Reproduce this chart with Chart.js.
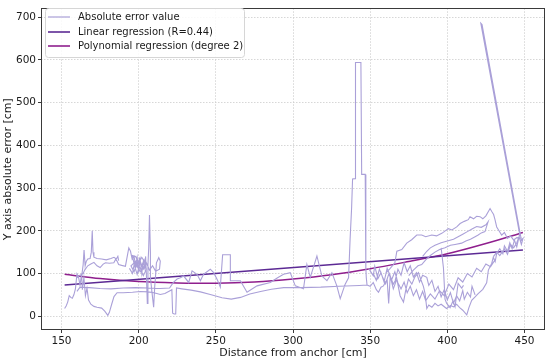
<!DOCTYPE html>
<html>
<head>
<meta charset="utf-8">
<script src="https://cdn.jsdelivr.net/npm/chart.js@4.4.1/dist/chart.umd.min.js"></script>
<style>
  html, body { margin: 0; padding: 0; background: #fff; }
  #wrap { width: 550px; height: 361px; position: relative; }
</style>
</head>
<body>
<div id="wrap"><canvas id="c" width="550" height="361"></canvas></div>
<script>
// ---------------- DATA ----------------
const xTicks = [150, 200, 250, 300, 350, 400, 450];
const yTicks = [0, 100, 200, 300, 400, 500, 600, 700];

const seriesLabels = ['Absolute error value', 'Linear regression (R=0.44)', 'Polynomial regression (degree 2)'];

// absolute error trajectory, pieces of [distance, error]
const errLowLeft = [[152,18],[153,24],[154,33],[155,48],[156,44],[157,42],[158,50],[159,64],[160,99],[161,92],[162,72],[163,100],[163.5,62],[164.5,90],[165.5,48],[166.5,66],[167.5,38],[169,28],[171,23],[173,21],[176,19],[178,12],[180,2],[181,9],[182.5,28],[184,46],[186,55],[190,55],[196,56],[201,58],[206,57],[210,55],[214,51],[217,53],[220,59],[221.5,62],[222,7],[223,5],[224,5],[224.5,66],[228,64],[234,61],[240,57],[247,50],[254,43],[260,40],[266,44],[272,52],[279,58],[286,63],[294,67],[305,67],[318,68],[330,70],[343,72],[348,73]];

const errMidLeft = [[160,58],[162,68],[168,67],[175,65],[182,64],[190,66],[198,67],[206,66],[214,65],[220,66],[222.5,79],[224.9,87],[227,90],[229.2,94],[232.4,79],[234.6,106],[237.8,98],[240,83],[242,98],[246.4,110],[248.6,102],[251,85],[252.9,68],[254.4,144],[259.4,144],[259.4,83],[265.9,83],[270.2,56],[276.7,71],[285.3,79],[290,90],[293.9,98],[298.2,102],[301.5,71],[306.8,64],[309,121],[311.2,91],[315.5,141],[318.7,94],[322,83],[325.2,102],[328.4,71],[330.6,41],[333.8,75],[336,90],[337,180],[338,255],[338.6,321],[340.3,322],[340.5,594],[344,594],[344.5,332],[346.8,332],[347.2,113],[347.5,90],[348,72]];

const errUpperLeft = [[160,90],[162,96],[164,100],[165,108],[167,118],[169,122],[171,126],[173,118],[175,114],[177,122],[178.5,125],[181,124],[183.9,125],[185,133],[186,129],[187,121],[189,119],[191.4,117],[193.6,160],[194.7,152],[195.8,133],[197,140],[198,118],[199,138],[200,108],[201,132],[202,100],[203,128],[204,112],[204.5,140],[205,96],[205.6,30],[206,120],[206.5,160],[207,237],[207.6,150],[207.6,91],[208.5,60],[209.7,21],[210.4,70],[210.8,87],[211.5,125],[213,137],[214,129],[213.5,110],[211,105],[209,118],[207,108],[205,125],[203,110],[201,128],[199,98],[197,122],[196,142],[198,140],[200,124],[202,138],[204,126]];

const errUpperBand = [[163,92],[164,120],[164.6,155],[165.3,118],[166,128],[167,134],[168.5,135],[169.3,150],[169.9,200],[170.4,150],[171,138],[173,135],[176,134],[179,132],[182,135],[184,138],[185.5,134],[186.5,140],[187,130]];

const errLeftTangle = [[194,112],[196,100],[197.5,130],[199,115],[200.5,135],[202,118],[203.5,132],[205,110],[203,95],[201,112],[199,125],[197,104],[195,118],[198,128],[201,104],[204,120]];

const errRightLow = [[348,73],[350,70],[352,79],[354,62],[355.4,56],[357,68],[358.6,71],[361,86],[362,30],[363,94],[365,64],[367.3,87],[369.4,48],[371.6,33],[373,60],[374.8,87],[377,75],[379,92],[381.3,102],[383,84],[384.5,70],[385.6,53],[386.7,18],[388,26],[390,21],[392,30],[394,24],[396,28],[399.5,18],[402,25],[404,22],[406,28],[408,20],[410,14],[412.6,3],[414,20],[415.8,37],[418,45],[420,53],[423,63],[425.5,78],[426.6,108],[428.8,124],[429.8,138],[431,128],[432,147],[434,158],[436,146],[437,165],[439,152],[440.5,172],[442,158],[443.5,178],[445,162],[446.5,186],[448,168],[449,182],[447.5,176],[448,178],[422.5,683],[421.7,686],[447,190],[445,172],[443,160],[441,168],[439,145],[437,158],[434,142],[432,150],[430,140]];

const errRightUpper = [[360,100],[363,112],[366,125],[367.3,152],[370.5,156],[373.7,171],[376.9,179],[380.2,190],[383.4,190],[386,186],[389.9,190],[393,188],[396.4,194],[398,198],[400.7,205],[403,202],[406.1,209],[408.3,217],[411,222],[413.6,226],[414.7,233],[417,228],[419,234],[421.2,233],[423,228],[425,235],[427.7,252],[428.8,245],[430,238],[430.9,226],[432,209],[433.5,200],[435.2,190],[437,196],[439,182],[441,188],[443,178],[445,184],[448.2,183]];

const errRightInner = [[375,95],[378,108],[381,118],[383.4,121],[386,132],[389,142],[392,150],[395,156],[398.5,160],[402,166],[405,168],[409.3,171],[412,176],[415,180],[418,186],[420,190],[422,195],[424.4,198],[426.4,221],[425,214],[422,208],[419,210],[416,204],[413,198],[410,192],[407,186],[404,180],[400,176],[396,172],[392,166],[389,160],[386.7,152],[384,140]];

const errRightMid = [[349,112],[352,95],[353,117],[355,88],[357,102],[359,80],[361,112],[363,94],[365,75],[366.2,83],[368,110],[370,96],[372,125],[374,104],[376,118],[378,92],[380,102],[382,80],[384,96],[386.7,91],[388,72],[390,84],[392,58],[394,70],[396,45],[398,62],[400,38],[402,55],[404,30],[406,48],[408,36],[410,60],[411,40],[413,56],[415,45],[416,70],[418,50]];

const errRightDrop = [[396,160],[397.5,113],[398.5,40],[399.6,30],[401.8,20],[403.7,36],[405,22],[407,77],[409.3,66],[410.5,72]];

const errRightTangle = [[352,100],[354,84],[356,110],[358,92],[360,76],[362,98],[364,86],[366,104],[368,78],[370,64],[372,80],[374,55],[376,70],[378,48],[380,62],[382,40],[384,58],[386,36],[389,52],[392,40],[395,60],[398,48],[401,75],[404,62],[407,90],[410,80],[413,100],[416,92],[419,112],[422,104],[425,122],[428,116],[431,132]];

// regression curves
const linDistance = [152, 449];
const linValue = [73, 155];
const polyDistance = [152, 175, 200, 225, 250, 275, 300, 325, 350, 375, 400, 425, 449];
const polyValue = [98, 88, 81, 78, 77, 80, 87, 97, 111, 128, 146, 170, 196];

// ---------------- BUILD ----------------
const errPieces = [errLowLeft, errMidLeft, errUpperLeft, errUpperBand, errLeftTangle, errRightLow, errRightUpper, errRightInner, errRightMid, errRightDrop, errRightTangle];
const errPoints = [];
errPieces.forEach((piece, i) => {
  if (i > 0) errPoints.push({x: piece[0][0], y: null});
  piece.forEach(p => errPoints.push({x: p[0], y: p[1]}));
});
const linPoints = linDistance.map((x, i) => ({x, y: linValue[i]}));
const polyPoints = polyDistance.map((x, i) => ({x, y: polyValue[i]}));

const COLORS = ['#aaa0d8', '#5c2a94', '#8f1f8d'];
const FONT = 'DejaVu Sans';

const framePlugin = {
  id: 'frameLegend',
  afterDraw(chart) {
    const ctx = chart.ctx;
    const a = chart.chartArea;
    ctx.save();
    ctx.strokeStyle = '#3a3a3a';
    ctx.lineWidth = 1;
    ctx.strokeRect(Math.round(a.left) + 0.5, Math.round(a.top) + 0.5, Math.round(a.right - a.left) - 1, Math.round(a.bottom - a.top) - 1);

    // legend box
    const bx = 45.5, by = 8.5, bw = 199, bh = 49, r = 3;
    ctx.beginPath();
    ctx.moveTo(bx + r, by);
    ctx.lineTo(bx + bw - r, by); ctx.quadraticCurveTo(bx + bw, by, bx + bw, by + r);
    ctx.lineTo(bx + bw, by + bh - r); ctx.quadraticCurveTo(bx + bw, by + bh, bx + bw - r, by + bh);
    ctx.lineTo(bx + r, by + bh); ctx.quadraticCurveTo(bx, by + bh, bx, by + bh - r);
    ctx.lineTo(bx, by + r); ctx.quadraticCurveTo(bx, by, bx + r, by);
    ctx.closePath();
    ctx.fillStyle = 'rgba(255,255,255,0.85)';
    ctx.fill();
    ctx.strokeStyle = '#d6d6d6';
    ctx.stroke();

    const rows = [17, 32, 46];
    const widths = [1.2, 1.6, 1.6];
    chart.data.datasets.forEach((ds, i) => {
      ctx.strokeStyle = ds.borderColor;
      ctx.lineWidth = widths[i];
      ctx.beginPath();
      ctx.moveTo(48, rows[i]);
      ctx.lineTo(70, rows[i]);
      ctx.stroke();
      ctx.fillStyle = '#1a1a1a';
      ctx.font = '10px "' + FONT + '"';
      ctx.textBaseline = 'middle';
      ctx.textAlign = 'left';
      ctx.fillText(ds.label, 78, rows[i] + 0.5);
    });
    ctx.restore();
  }
};

new Chart(document.getElementById('c'), {
  type: 'scatter',
  data: {
    datasets: [
      { label: seriesLabels[0], data: errPoints, showLine: true, spanGaps: false, borderColor: COLORS[0], borderWidth: 1.1, pointRadius: 0, tension: 0 },
      { label: seriesLabels[1], data: linPoints, showLine: true, borderColor: COLORS[1], borderWidth: 1.5, pointRadius: 0, tension: 0 },
      { label: seriesLabels[2], data: polyPoints, showLine: true, borderColor: COLORS[2], borderWidth: 1.5, pointRadius: 0, tension: 0.3 }
    ]
  },
  options: {
    responsive: false,
    animation: false,
    devicePixelRatio: 1,
    layout: { padding: { left: 0, right: 5, top: 4, bottom: 0 } },
    plugins: { legend: { display: false }, tooltip: { enabled: false } },
    scales: {
      x: {
        type: 'linear', min: 136.7, max: 463.3,
        afterBuildTicks: s => { s.ticks = xTicks.map(v => ({value: v})); },
        afterFit: s => { s.height = 31; },
        grid: { color: '#cdcdcd', lineWidth: 0.8, tickColor: '#3a3a3a', tickLength: 3, tickWidth: 1, tickBorderDash: [] },
        border: { display: false, dash: [1.5, 1.5] },
        ticks: { color: '#1a1a1a', font: { family: FONT, size: 10.5 }, padding: 2, maxRotation: 0 },
        title: { display: true, text: 'Distance from anchor [cm]', color: '#1a1a1a', font: { family: FONT, size: 11 }, padding: { top: 0, bottom: 1 } }
      },
      y: {
        type: 'linear', min: -32.3, max: 720.8,
        afterBuildTicks: s => { s.ticks = yTicks.map(v => ({value: v})); },
        afterFit: s => { s.width = 41; },
        grid: { color: '#cdcdcd', lineWidth: 0.8, tickColor: '#3a3a3a', tickLength: 3, tickWidth: 1, tickBorderDash: [] },
        border: { display: false, dash: [1.5, 1.5] },
        ticks: { color: '#1a1a1a', font: { family: FONT, size: 10.5 }, padding: 2 },
        title: { display: true, text: 'Y axis absolute error [cm]', color: '#1a1a1a', font: { family: FONT, size: 11 }, padding: { top: 2, bottom: 0 } }
      }
    }
  },
  plugins: [framePlugin]
});
</script>
</body>
</html>
